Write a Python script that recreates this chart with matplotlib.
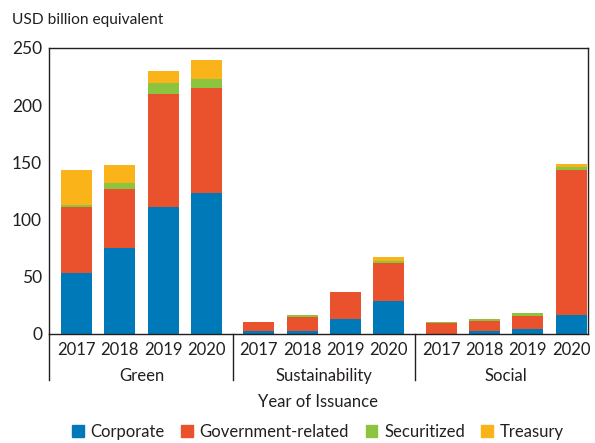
import numpy as np
import matplotlib.pyplot as plt
from matplotlib.patches import Patch

plt.rcParams['font.family'] = ['Lato', 'DejaVu Sans']

groups = ['Green', 'Sustainability', 'Social']
years = ['2017', '2018', '2019', '2020']
series = ['Corporate', 'Government-related', 'Securitized', 'Treasury']
colors = ['#0079B8', '#E9522C', '#8DC43F', '#FAB41A']

# values per bar, order: Green 2017-2020, Sustainability 2017-2020, Social 2017-2020
corporate = [53.4, 75.6, 111.1, 123.4, 2.9, 2.3, 13.4, 28.6, 0.0, 2.9, 4.1, 16.9]
government = [57.7, 51.3, 98.9, 91.9, 7.9, 12.9, 23.6, 33.8, 9.9, 8.8, 11.9, 126.5]
securitized = [1.8, 5.2, 9.7, 7.9, 0.0, 1.7, 0.0, 1.8, 0.9, 1.7, 2.7, 2.6]
treasury = [30.6, 15.8, 10.5, 16.6, 0.0, 0.0, 0.0, 3.5, 0.0, 0.0, 0.0, 2.6]

data = [corporate, government, securitized, treasury]

group_step = 4.21
x = np.array([g * group_step + i for g in range(3) for i in range(4)])

fig = plt.figure(figsize=(5.95, 4.43), dpi=100)
ax = fig.add_axes([49 / 595, 1 - 334 / 443, (588 - 49) / 595, (334 - 48) / 443])

bottom = np.zeros(len(x))
for vals, col in zip(data, colors):
    vals = np.array(vals)
    ax.bar(x, vals, width=0.72, bottom=bottom, color=col, linewidth=0)
    bottom += vals

ax.set_xlim(-0.635, 11.81)
ax.set_ylim(0, 250)
ax.set_yticks(range(0, 251, 50))
ax.tick_params(axis='y', length=0, labelsize=12.5, pad=5, colors='#231f20')
ax.set_xticks(x)
ax.set_xticklabels(years * 3)
ax.tick_params(axis='x', length=0, labelsize=12, pad=6, colors='#231f20')
for s in ax.spines.values():
    s.set_color('#231f20')
    s.set_linewidth(1.0)

# group separators below the axis
trans = ax.get_xaxis_transform()
sep_x = [-0.635, 3 + (group_step - 3) / 2, group_step + 3 + (group_step - 3) / 2]
for sx in sep_x:
    ax.plot([sx, sx], [0, -46 / 286], transform=trans, color='#231f20',
            lw=1.0, clip_on=False)

for g, name in enumerate(groups):
    ax.text(g * group_step + 1.5, -42 / 286, name, transform=trans,
            ha='center', va='center', fontsize=12, color='#231f20')

fig.text(0.5 * (49 + 588) / 595, 1 - 402 / 443, 'Year of Issuance',
         ha='center', va='center', fontsize=12, color='#231f20')
fig.text(12 / 595, 1 - 20 / 443, 'USD billion equivalent',
         ha='left', va='center', fontsize=11.2, color='#231f20')

handles = [Patch(color=c, label=s) for c, s in zip(colors, series)]
fig.legend(handles=handles, loc='center', bbox_to_anchor=(318 / 595, 1 - 432 / 443),
           ncol=4, frameon=False, fontsize=12, handlelength=0.7, handleheight=0.7,
           handletextpad=0.4, columnspacing=1.0, labelcolor='#231f20')

fig.savefig('out.png', dpi=100)
